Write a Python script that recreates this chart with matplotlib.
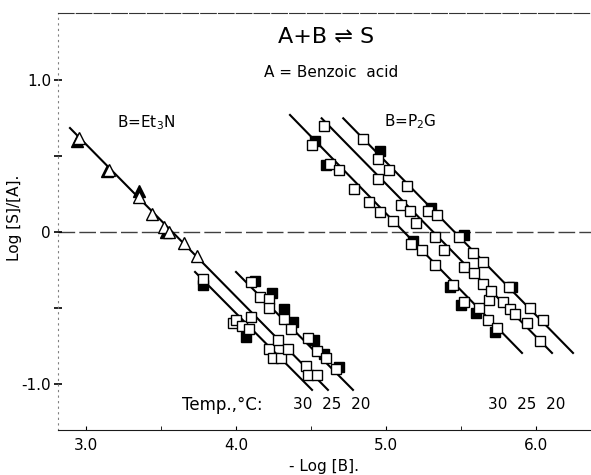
#! /usr/bin/env python3

"""
Log [S]/[A] vs -Log [B] for benzoic acid with Et3N and P2G at 30, 25, 20 C.
"""
import matplotlib
matplotlib.use('Agg')
import matplotlib.pyplot as plt

# Et3N, triangles (25 C) and squares per temperature
et3n_tri_x = [2.95, 3.15, 3.35, 3.44, 3.52, 3.55, 3.65, 3.74]
et3n_tri_y = [0.62, 0.41, 0.23, 0.12, 0.03, 0.00, -0.07, -0.16]
et3n_tri_fill_x = [2.94, 3.14, 3.35, 3.53]
et3n_tri_fill_y = [0.60, 0.40, 0.27, 0.00]

et3n_30_x = [3.78, 3.98, 4.00, 4.04, 4.09, 4.22, 4.25, 4.30]
et3n_30_y = [-0.31, -0.60, -0.58, -0.62, -0.64, -0.77, -0.83, -0.83]
et3n_25_x = [4.10, 4.28, 4.35, 4.47, 4.48, 4.54]
et3n_25_y = [-0.56, -0.71, -0.77, -0.88, -0.94, -0.94]
et3n_20_x = [4.10, 4.16, 4.22, 4.22, 4.32, 4.37, 4.48, 4.54, 4.60, 4.67]
et3n_20_y = [-0.33, -0.43, -0.44, -0.50, -0.57, -0.64, -0.70, -0.78, -0.83, -0.90]
et3n_sq_fill_x = [3.78, 4.07, 4.13, 4.24, 4.32, 4.38, 4.52, 4.59, 4.69]
et3n_sq_fill_y = [-0.35, -0.69, -0.32, -0.40, -0.51, -0.59, -0.71, -0.80, -0.89]

# P2G squares
p2g_30_x = [4.51, 4.63, 4.69, 4.79, 4.89, 4.96, 5.05, 5.17, 5.24, 5.33,
            5.45, 5.52, 5.62, 5.68, 5.74]
p2g_30_y = [0.57, 0.45, 0.41, 0.28, 0.20, 0.13, 0.07, -0.08, -0.12, -0.22,
            -0.35, -0.46, -0.50, -0.58, -0.63]
p2g_25_x = [4.59, 4.95, 5.10, 5.16, 5.20, 5.33, 5.39, 5.52, 5.59, 5.65,
            5.69, 5.70, 5.78, 5.83, 5.86, 5.94, 6.03]
p2g_25_y = [0.70, 0.35, 0.18, 0.14, 0.06, -0.03, -0.12, -0.23, -0.27, -0.34,
            -0.45, -0.39, -0.46, -0.51, -0.54, -0.60, -0.72]
p2g_20_x = [4.85, 4.95, 5.02, 5.14, 5.28, 5.34, 5.49, 5.58, 5.65, 5.82,
            5.96, 6.05]
p2g_20_y = [0.61, 0.48, 0.41, 0.30, 0.14, 0.11, -0.03, -0.14, -0.20, -0.36,
            -0.50, -0.58]
p2g_fill_x = [4.53, 4.60, 5.18, 5.43, 5.50, 5.60, 5.73, 4.96, 5.30, 5.52, 5.84]
p2g_fill_y = [0.60, 0.44, -0.06, -0.36, -0.48, -0.53, -0.66, 0.53, 0.16,
              -0.02, -0.36]

# fitted lines: (x start, y start, x end, y end)
lines_et3n = [(3.727, -0.263, 4.507, -1.039),
              (2.893, 0.684, 4.613, -1.039),
              (4.000, -0.263, 4.780, -1.039)]
lines_p2g = [(4.360, 0.770, 5.907, -0.796),
             (4.571, 0.748, 6.107, -0.796),
             (4.715, 0.748, 6.247, -0.796)]

temps = ['30', '25', '20']

fig = plt.figure(figsize=(5.91, 4.75), dpi=100)
ax = fig.add_axes([0.0981, 0.0947, 0.9019, 0.878])
ax.set_xlim(2.813, 6.367)
ax.set_ylim(-1.303, 1.441)

for x0, y0, x1, y1 in lines_et3n + lines_p2g:
    ax.plot([x0, x1], [y0, y1], color='black', lw=1.5, zorder=2)

# the dashed zero line across the whole frame
ax.axhline(0, color='0.25', lw=1.0, ls=(0, (12, 3)), zorder=1)

fill_kw = dict(ls='none', color='black', zorder=3)
open_kw = dict(ls='none', mfc='white', mec='black', mew=1.0, zorder=4)
ax.plot(et3n_tri_fill_x, et3n_tri_fill_y, marker='^', ms=8, **fill_kw)
ax.plot(et3n_sq_fill_x, et3n_sq_fill_y, marker='s', ms=6.5, **fill_kw)
ax.plot(p2g_fill_x, p2g_fill_y, marker='s', ms=6.5, **fill_kw)
ax.plot(et3n_tri_x, et3n_tri_y, marker='^', ms=8, **open_kw)
for xs, ys in [(et3n_30_x, et3n_30_y), (et3n_25_x, et3n_25_y),
               (et3n_20_x, et3n_20_y), (p2g_30_x, p2g_30_y),
               (p2g_25_x, p2g_25_y), (p2g_20_x, p2g_20_y)]:
    ax.plot(xs, ys, marker='s', ms=6.5, **open_kw)

# spines look like the old scanned frame
ax.spines['right'].set_visible(False)
ax.spines['top'].set_linestyle((0, (14, 2)))
ax.spines['top'].set_color('0.2')
ax.spines['left'].set_linestyle((0, (1, 4)))
ax.spines['left'].set_color('0.5')
ax.spines['bottom'].set_color('0.1')

ax.set_xticks([3.0, 4.0, 5.0, 6.0])
ax.set_xticklabels(['3.0', '4.0', '5.0', '6.0'])
ax.set_xticks([3.5, 4.5, 5.5], minor=True)
ax.tick_params(axis='x', which='both', direction='in', length=3,
               labelsize=11, pad=6)
ax.set_yticks([1.0, 0.5, 0.0, -0.5, -1.0])
ax.set_yticklabels(['1.0', '', '0', '', '-1.0'])
ax.tick_params(axis='y', direction='inout', length=6, width=1.2,
               labelsize=11, pad=2)

ax.set_xlabel('- Log [B].', fontsize=11, labelpad=4)
ax.set_ylabel('Log [S]/[A].', fontsize=11)
ax.yaxis.set_label_coords(-0.068, 0.51)

ax.text(0.503, 0.942, 'A+B \u21cc S', transform=ax.transAxes,
        ha='center', va='center', fontsize=16)
ax.text(0.512, 0.858, 'A = Benzoic  acid', transform=ax.transAxes,
        ha='center', va='center', fontsize=11)
ax.text(3.40, 0.717, 'B=Et$_3$N', ha='center', va='center', fontsize=11)
ax.text(5.16, 0.724, 'B=P$_2$G', ha='center', va='center', fontsize=11)

ax.text(3.907, -1.138, 'Temp.,\u00b0C:', ha='center', va='center', fontsize=12)
ax.text(4.64, -1.138, '  '.join(temps), ha='center', va='center', fontsize=11)
ax.text(5.94, -1.138, '  '.join(temps), ha='center', va='center', fontsize=11)

fig.savefig('out.png', dpi=100)
